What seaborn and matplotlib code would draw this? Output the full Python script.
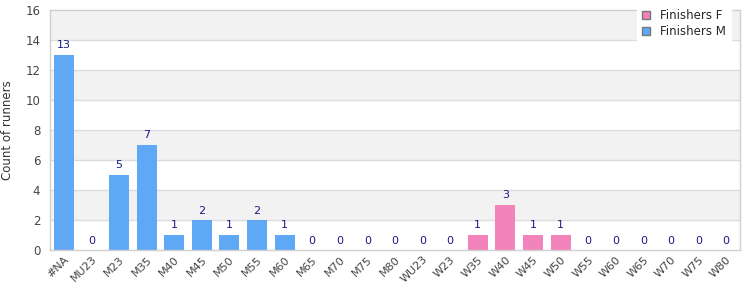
import matplotlib
matplotlib.use("Agg")
import matplotlib.pyplot as plt
import seaborn as sns
import pandas as pd
from matplotlib.patches import Patch

categories = ["#NA", "MU23", "M23", "M35", "M40", "M45", "M50", "M55", "M60", "M65",
              "M70", "M75", "M80", "WU23", "W23", "W35", "W40", "W45", "W50", "W55",
              "W60", "W65", "W70", "W75", "W80"]
groups = ["Finishers M"] * 13 + ["Finishers F"] * 12
counts = [13, 0, 5, 7, 1, 2, 1, 2, 1, 0, 0, 0, 0,
          0, 0, 1, 3, 1, 1, 0, 0, 0, 0, 0, 0]

df = pd.DataFrame({"cat": categories, "group": groups, "count": counts})
palette = {"Finishers M": "#5fa8f5", "Finishers F": "#f283bb"}

sns.set_style("white")
plt.rcParams['font.family'] = ['DejaVu Sans']

fig = plt.figure(figsize=(7.5, 3), dpi=100)
ax = fig.add_axes([50/750, 50/300, 690/750, 240/300])

# alternating bands
for lo in range(0, 16, 2):
    if (lo // 2) % 2 == 1:
        ax.axhspan(lo, lo + 2, color="#f2f2f2", zorder=0, lw=0)
for y in range(2, 16, 2):
    ax.axhline(y, color="#dcdcdc", lw=1, zorder=0.5)

sns.barplot(data=df, x="cat", y="count", hue="group", palette=palette,
            dodge=False, width=0.72, ax=ax, legend=False, zorder=2,
            order=categories, saturation=1, linewidth=0, edgecolor="none")

for i, v in enumerate(counts):
    ax.text(i, v + 0.3, str(v), ha="center", va="bottom", fontsize=8,
            color="#1a1a8a", zorder=3)

ax.set_xlim(-0.5, len(categories) - 0.5)
ax.set_ylim(0, 16)
ax.set_yticks(range(0, 17, 2))
ax.set_xlabel("")
ax.set_ylabel("Count of runners", fontsize=8.5, color="#333333", labelpad=8)
ax.tick_params(axis="y", labelsize=8.5, colors="#444444", length=0, pad=7)
ax.tick_params(axis="x", labelsize=8, colors="#444444", length=0, pad=3)
plt.setp(ax.get_xticklabels(), rotation=45, ha="right", rotation_mode="anchor")
for s in ax.spines.values():
    s.set_color("#d0d0d0")
    s.set_linewidth(1)

handles = [Patch(facecolor="#f283bb", edgecolor="#777777", label="Finishers F"),
           Patch(facecolor="#5fa8f5", edgecolor="#777777", label="Finishers M")]
leg = fig.legend(handles=handles, loc="upper right", bbox_to_anchor=(737/750, 1.005),
                 fontsize=8.5, frameon=True, fancybox=False, framealpha=1,
                 edgecolor="white", handlelength=0.7, handleheight=0.7,
                 borderpad=0.4, labelspacing=0.25, handletextpad=0.9)
leg.set_zorder(10)

fig.savefig("out.png", dpi=100)
